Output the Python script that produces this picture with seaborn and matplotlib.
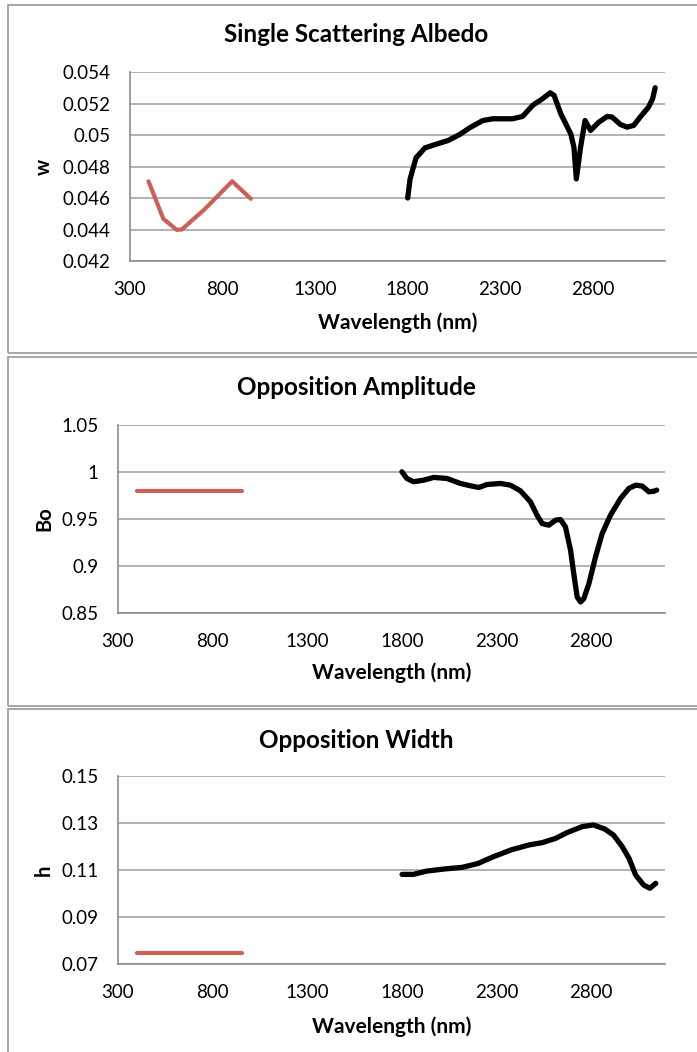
import matplotlib
matplotlib.use("Agg")
import matplotlib.pyplot as plt
from matplotlib.patches import Rectangle
import seaborn as sns

# ---------------- data ----------------
x_ticks = [300, 800, 1300, 1800, 2300, 2800]
x_tick_labels = ["300", "800", "1300", "1800", "2300", "2800"]

# visible (red) series
vis_wl = [400, 480, 552, 580, 700, 852, 953]
vis_w = [0.04706, 0.04468, 0.04398, 0.04400, 0.04525, 0.04706, 0.04595]
vis_bo = [0.98, 0.98, 0.98, 0.98, 0.98, 0.98, 0.98]
vis_h = [0.075, 0.075, 0.075, 0.075, 0.075, 0.075, 0.075]

# infrared (black) series - single scattering albedo
ir_wl_w = [1800, 1813, 1845, 1893, 1947, 2018, 2081, 2135, 2206, 2260, 2367,
           2421, 2475, 2528, 2570, 2591, 2627, 2681, 2698, 2711, 2734, 2758,
           2788, 2833, 2878, 2904, 2949, 2985, 3021, 3056, 3101, 3123, 3137]
ir_w = [0.0460, 0.04721, 0.04855, 0.04918, 0.04939, 0.04965, 0.05003, 0.05046,
        0.05092, 0.05103, 0.05103, 0.05118, 0.05188, 0.05230, 0.05268, 0.05251,
        0.05135, 0.05007, 0.04923, 0.04721, 0.04923, 0.05092, 0.05029, 0.05082,
        0.05118, 0.05114, 0.05067, 0.05050, 0.05061, 0.05114, 0.05177, 0.05230,
        0.05300]

# opposition amplitude
ir_wl_bo = [1800, 1826, 1862, 1915, 1968, 2038, 2109, 2162, 2206, 2250, 2320,
            2373, 2426, 2479, 2514, 2541, 2576, 2612, 2638, 2664, 2691, 2708,
            2726, 2744, 2761, 2788, 2823, 2858, 2902, 2955, 2999, 3035, 3070,
            3105, 3132, 3146]
ir_bo = [1.000, 0.9929, 0.9894, 0.9911, 0.9940, 0.9929, 0.9876, 0.9851, 0.9833,
         0.9865, 0.9876, 0.9858, 0.9798, 0.9681, 0.9539, 0.9450, 0.9433, 0.9486,
         0.9493, 0.9415, 0.9167, 0.8918, 0.8670, 0.8617, 0.8652, 0.8812, 0.9096,
         0.9344, 0.9539, 0.9716, 0.9823, 0.9858, 0.9848, 0.9787, 0.9794, 0.9805]

# opposition width
ir_wl_h = [1801, 1860, 1931, 2025, 2119, 2201, 2283, 2377, 2471, 2542, 2612,
           2671, 2753, 2812, 2871, 2918, 2964, 3000, 3035, 3077, 3110, 3141]
ir_h = [0.1082, 0.1082, 0.1096, 0.1105, 0.1112, 0.1128, 0.1157, 0.1186, 0.1207,
        0.1217, 0.1235, 0.1259, 0.1285, 0.1292, 0.1275, 0.1249, 0.1200, 0.1150,
        0.1079, 0.1037, 0.1023, 0.1044]

titles = ["Single Scattering Albedo", "Opposition Amplitude", "Opposition Width"]
ylabels = ["w", "Bo", "h"]
yticks_w = [0.042, 0.044, 0.046, 0.048, 0.05, 0.052, 0.054]
ytl_w = ["0.042", "0.044", "0.046", "0.048", "0.05", "0.052", "0.054"]
yticks_bo = [0.85, 0.9, 0.95, 1.0, 1.05]
ytl_bo = ["0.85", "0.9", "0.95", "1", "1.05"]
yticks_h = [0.07, 0.09, 0.11, 0.13, 0.15]
ytl_h = ["0.07", "0.09", "0.11", "0.13", "0.15"]

# ---------------- style ----------------
sns.set_theme(style="white")
plt.rcParams['font.family'] = ['Lato', 'DejaVu Sans']

RED = "#CC5F58"
GRID = "#a6a6a6"
AXC = "#8c8c8c"

W, H = 697, 1052
fig = plt.figure(figsize=(W / 100, H / 100), dpi=100)

def px_rect(left, top, right, bottom):
    return [left / W, 1 - bottom / H, (right - left) / W, (bottom - top) / H]

# panel frames
for (t, b) in [(4.5, 353), (356.5, 705.5), (708.5, 1070)]:
    fig.add_artist(Rectangle((7.5 / W, 1 - b / H), (720 - 7.5) / W, (b - t) / H,
                             transform=fig.transFigure, fill=False,
                             edgecolor="#a0a0a0", linewidth=1.3))

panels = [
    dict(rect=px_rect(130, 72, 665, 261), vx=vis_wl, vy=vis_w, ix=ir_wl_w, iy=ir_w,
         ylim=(0.042, 0.054), yt=yticks_w, ytl=ytl_w),
    dict(rect=px_rect(118, 424.7, 665, 613), vx=vis_wl, vy=vis_bo, ix=ir_wl_bo, iy=ir_bo,
         ylim=(0.85, 1.05), yt=yticks_bo, ytl=ytl_bo),
    dict(rect=px_rect(118, 776, 665, 964.3), vx=vis_wl, vy=vis_h, ix=ir_wl_h, iy=ir_h,
         ylim=(0.07, 0.15), yt=yticks_h, ytl=ytl_h),
]

title_x = [356, 356, 356]
xlabel_x = [398, 392, 392]
ylabel_x = [44, 44, 44]
title_y = [35, 388, 740]
xlabel_y = [323, 673, 1027]

for i, p in enumerate(panels):
    ax = fig.add_axes(p["rect"])
    ax.set_facecolor("white")
    sns.lineplot(x=p["vx"], y=p["vy"], ax=ax, color=RED, linewidth=3.0,
                 estimator=None, solid_capstyle="round", solid_joinstyle="round")
    sns.lineplot(x=p["ix"], y=p["iy"], ax=ax, color="black", linewidth=3.8,
                 estimator=None, solid_capstyle="round", solid_joinstyle="round")
    ax.set_xlim(300, 3190)
    ax.set_ylim(*p["ylim"])
    ax.set_xticks(x_ticks)
    ax.set_xticklabels(x_tick_labels)
    ax.set_yticks(p["yt"])
    ax.set_yticklabels(p["ytl"])
    ax.grid(axis="y", color=GRID, linewidth=1.2)
    ax.grid(axis="x", visible=False)
    ax.set_axisbelow(True)
    for s in ["top", "right"]:
        ax.spines[s].set_visible(False)
    for s in ["left", "bottom"]:
        ax.spines[s].set_color(AXC)
        ax.spines[s].set_linewidth(1.2)
    ax.tick_params(axis="both", which="major", direction="out", color=AXC,
                   width=1.1, labelsize=13.5, labelcolor="black")
    ax.tick_params(axis="y", length=5, pad=9)
    ax.tick_params(axis="x", length=4.5, pad=10)
    ax.set_xlabel("")
    ax.set_ylabel("")

    l, b, w, h = p["rect"]
    fig.text(title_x[i] / W, 1 - title_y[i] / H, titles[i], ha="center", va="center",
             fontsize=17.5, fontweight="bold", color="black")
    fig.text(xlabel_x[i] / W, 1 - xlabel_y[i] / H, "Wavelength (nm)", ha="center",
             va="center", fontsize=15, fontweight="bold", color="black")
    fig.text(ylabel_x[i] / W, b + h / 2, ylabels[i], ha="center", va="center",
             rotation=90, fontsize=14.5, fontweight="bold", color="black")

fig.savefig("out.png", dpi=100, facecolor="white")
